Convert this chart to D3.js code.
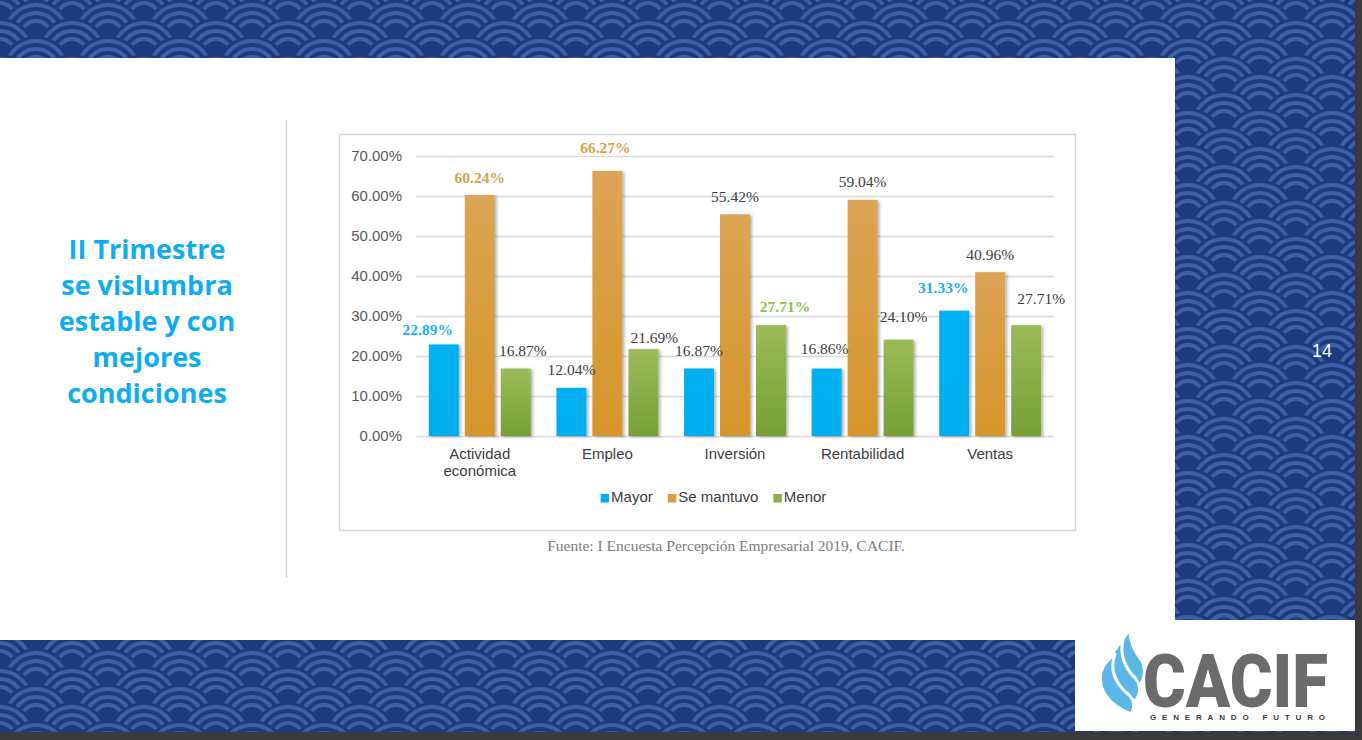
<!DOCTYPE html>
<html>
<head>
<meta charset="utf-8">
<script src="https://cdn.jsdelivr.net/npm/d3@7"></script>
<style>
  body { margin: 0; background: #3a3a3a; }
  svg { display: block; }
</style>
</head>
<body>
<script>
const W = 1362, H = 740;

// chart data
const categories = ["Actividad económica", "Empleo", "Inversión", "Rentabilidad", "Ventas"];
const series = ["Mayor", "Se mantuvo", "Menor"];
const mayor = [22.89, 12.04, 16.87, 16.86, 31.33];
const seMantuvo = [60.24, 66.27, 55.42, 59.04, 40.96];
const menor = [16.87, 21.69, 27.71, 24.10, 27.71];
const yTicks = [0, 10, 20, 30, 40, 50, 60, 70];
const titleLines = ["II Trimestre", "se vislumbra", "estable y con", "mejores", "condiciones"];
const sourceText = "Fuente: I Encuesta Percepción Empresarial 2019, CACIF.";

// label tweaks (layout only): nudge from bar centre / bar top, bold flag
const labelNudge = {
  "Mayor":      [[-16, -15], [0, -18], [0, -18], [-2, -20], [-11, -23]],
  "Se mantuvo": [[0, -18], [-2, -23], [0, -18], [0, -18], [0, -18]],
  "Menor":      [[7, -18], [11, -12], [14, -19], [5, -23], [15, -27]]
};
const boldLabels = { "Mayor": [0, 4], "Se mantuvo": [0, 1], "Menor": [2] };

const colors = { "Mayor": "#00b0f0", "Se mantuvo": "#dc9e3c", "Menor": "#8db04c" };
const boldColors = { "Mayor": "#1ab0ea", "Se mantuvo": "#d6a24c", "Menor": "#93c04e" };

const svg = d3.select("body").append("svg")
    .attr("width", W)
    .attr("height", H);

const defs = svg.append("defs");

function gradient(id, top, bottom) {
    const g = defs.append("linearGradient")
        .attr("id", id)
        .attr("x1", 0).attr("y1", 0).attr("x2", 0).attr("y2", 1);
    g.append("stop").attr("offset", "0%").attr("stop-color", top);
    g.append("stop").attr("offset", "100%").attr("stop-color", bottom);
}
gradient("g-mayor", "#00b0f0", "#00aeee");
gradient("g-mantuvo", "#dca555", "#d6952a");
gradient("g-menor", "#9bbb59", "#76a035");
const fills = { "Mayor": "url(#g-mayor)", "Se mantuvo": "url(#g-mantuvo)", "Menor": "url(#g-menor)" };

const shadow = defs.append("filter").attr("id", "shadow")
    .attr("x", "-30%").attr("y", "-10%").attr("width", "160%").attr("height", "130%");
shadow.append("feDropShadow")
    .attr("dx", 2).attr("dy", 1).attr("stdDeviation", 1.4)
    .attr("flood-color", "#000").attr("flood-opacity", 0.3);

defs.append("clipPath").attr("id", "bgclip")
    .append("rect").attr("x", 0).attr("y", 0).attr("width", 1355).attr("height", 732);

// --- seigaiha background ---
const bg = svg.append("g").attr("clip-path", "url(#bgclip)");
bg.append("rect").attr("width", W).attr("height", H).attr("fill", "#1d3a7f");
const R = 36;
for (let j = 0; j < Math.ceil(H / (R / 2)) + 3; j++) {
    const cy = j * R / 2 - R / 2;
    const off = (j % 2) * R;
    for (let cx = -2 * R + off; cx < W + 2 * R; cx += 2 * R) {
        const s = bg.append("g").attr("transform", `translate(${cx},${cy})`);
        s.append("circle").attr("r", R).attr("fill", "#1d3a7f");
        [R - 5, R - 13, R - 21].forEach(r => {
            s.append("circle").attr("r", r)
                .attr("fill", "none")
                .attr("stroke", "#3d5fa7")
                .attr("stroke-width", 4);
        });
    }
}

// white panels
svg.append("rect").attr("x", 0).attr("y", 58).attr("width", 1175).attr("height", 582).attr("fill", "#fff");
svg.append("rect").attr("x", 1075).attr("y", 620).attr("width", 280).attr("height", 111).attr("fill", "#fff");

// separator
svg.append("line")
    .attr("x1", 286.5).attr("x2", 286.5).attr("y1", 120).attr("y2", 578)
    .attr("stroke", "#d4d4d4").attr("stroke-width", 1.5);

// title
svg.append("g").selectAll("text")
    .data(titleLines)
    .join("text")
    .attr("x", 147)
    .attr("y", (d, i) => 259 + i * 36)
    .attr("text-anchor", "middle")
    .attr("font-family", "'Open Sans', sans-serif")
    .attr("font-weight", 700)
    .attr("font-size", 27)
    .attr("fill", "#0eaeee")
    .text(d => d);

// page number
svg.append("text")
    .attr("x", 1322).attr("y", 357)
    .attr("text-anchor", "middle")
    .attr("font-family", "'Liberation Sans', Arial, sans-serif")
    .attr("font-size", 18)
    .attr("fill", "#fff")
    .text("14");

// chart frame
svg.append("rect")
    .attr("x", 339.5).attr("y", 134.5).attr("width", 736).attr("height", 396)
    .attr("fill", "#fff").attr("stroke", "#d9d9d9").attr("stroke-width", 1.5);

// --- chart ---
const plotLeft = 416, plotRight = 1054;
const y = d3.scaleLinear().domain([0, 70]).range([436, 156]);
const x0 = d3.scaleBand().domain(categories).range([plotLeft, plotRight]);
const x1 = d3.scaleBand().domain(series).range([0, x0.bandwidth()])
    .paddingInner(1 / 6).paddingOuter(0.356);

const yAxis = svg.append("g")
    .attr("transform", `translate(${plotLeft},0)`)
    .call(d3.axisLeft(y)
        .tickValues(yTicks)
        .tickSize(-(plotRight - plotLeft))
        .tickPadding(14)
        .tickFormat(d => d.toFixed(2) + "%"));
yAxis.select(".domain").remove();
yAxis.selectAll(".tick line").attr("stroke", "#d9d9d9").attr("stroke-width", 1.6);
yAxis.selectAll(".tick text")
    .attr("font-family", "'Liberation Sans', Arial, sans-serif")
    .attr("font-size", 15)
    .attr("fill", "#595959");

const values = { "Mayor": mayor, "Se mantuvo": seMantuvo, "Menor": menor };
const rows = series.flatMap(s => categories.map((c, i) => ({ s, c, i, v: values[s][i] })));

svg.append("g").selectAll("rect")
    .data(rows)
    .join("rect")
    .attr("x", d => x0(d.c) + x1(d.s))
    .attr("y", d => y(d.v))
    .attr("width", x1.bandwidth())
    .attr("height", d => y(0) - y(d.v))
    .attr("fill", d => fills[d.s])
    .attr("filter", "url(#shadow)");

svg.append("g").selectAll("text")
    .data(rows)
    .join("text")
    .attr("x", d => x0(d.c) + x1(d.s) + x1.bandwidth() / 2 + labelNudge[d.s][d.i][0])
    .attr("y", d => y(d.v) + labelNudge[d.s][d.i][1] + 5.5)
    .attr("text-anchor", "middle")
    .attr("font-family", "'Liberation Serif', 'Times New Roman', serif")
    .attr("font-size", 15.5)
    .attr("font-weight", d => boldLabels[d.s].includes(d.i) ? 700 : 400)
    .attr("fill", d => boldLabels[d.s].includes(d.i) ? boldColors[d.s] : "#404040")
    .text(d => d.v.toFixed(2) + "%");

// category labels
const catText = svg.append("g").selectAll("text")
    .data(categories)
    .join("text")
    .attr("x", d => x0(d) + x0.bandwidth() / 2)
    .attr("y", 459)
    .attr("text-anchor", "middle")
    .attr("font-family", "'Liberation Sans', Arial, sans-serif")
    .attr("font-size", 15)
    .attr("fill", "#404040");
catText.each(function(d) {
    const words = d === "Actividad económica" ? ["Actividad", "económica"] : [d];
    const t = d3.select(this);
    words.forEach((w, k) => {
        t.append("tspan")
            .attr("x", x0(d) + x0.bandwidth() / 2)
            .attr("dy", k === 0 ? 0 : 17)
            .text(w);
    });
});

// legend
const legend = svg.append("g");
let lx = 0;
series.forEach(s => {
    const g = legend.append("g");
    g.append("rect").attr("y", -8).attr("width", 8.5).attr("height", 8.5).attr("fill", colors[s]);
    const t = g.append("text")
        .attr("x", 10.5)
        .attr("font-family", "'Liberation Sans', Arial, sans-serif")
        .attr("font-size", 15)
        .attr("fill", "#404040")
        .text(s);
    const w = 10.5 + t.node().getComputedTextLength();
    g.attr("transform", `translate(${lx},0)`);
    lx += w + 15;
});
const legendW = lx - 15;
legend.attr("transform", `translate(${713.5 - legendW / 2},502)`);

// source
svg.append("text")
    .attr("x", 726).attr("y", 551)
    .attr("text-anchor", "middle")
    .attr("font-family", "'Liberation Serif', 'Times New Roman', serif")
    .attr("font-size", 15.5)
    .attr("fill", "#7c7c7c")
    .text(sourceText);

// --- logo ---
const logo = svg.append("g")
    .attr("fill", "#5bb8e6")
    .attr("stroke", "#fff")
    .attr("stroke-width", 3)
    .attr("stroke-linejoin", "round");
logo.append("path")
    .attr("d", "M1139,686 C1126,676 1117,661 1120,646 C1122,639 1126,634 1130,629 C1129,642 1135,652 1142,661 C1146,668 1145,680 1139,686 Z");
logo.append("path")
    .attr("d", "M1135,701 C1120,692 1107,677 1110,660 C1112,652 1117,646 1123,640 C1119,656 1125,668 1136,679 C1141,686 1141,695 1135,701 Z");
logo.append("path")
    .attr("d", "M1131,714 C1111,706 1097,691 1101,672 C1103,664 1109,659 1115,654 C1110,668 1113,682 1129,695 C1135,701 1135,709 1131,714 Z");
svg.append("text")
    .attr("x", 1143).attr("y", 707)
    .attr("font-family", "Roboto, 'Liberation Sans', sans-serif")
    .attr("font-weight", 900)
    .attr("font-size", 75)
    .attr("fill", "#6b6b6b")
    .attr("textLength", 185)
    .attr("lengthAdjust", "spacingAndGlyphs")
    .text("CACIF");
svg.append("text")
    .attr("x", 1150).attr("y", 720)
    .attr("font-family", "'Liberation Sans', Arial, sans-serif")
    .attr("font-weight", 700)
    .attr("font-size", 8)
    .attr("fill", "#3d3d3d")
    .attr("textLength", 175)
    .attr("lengthAdjust", "spacing")
    .text("GENERANDO FUTURO");
</script>
</body>
</html>
